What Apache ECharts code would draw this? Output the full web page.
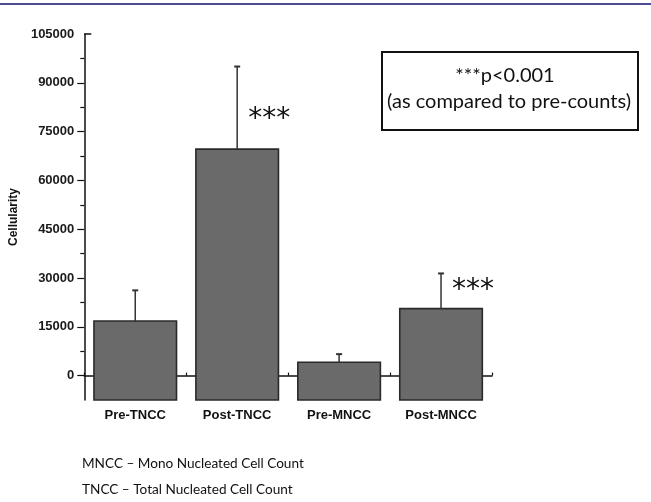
<!DOCTYPE html>
<html>
<head>
<meta charset="utf-8">
<script src="https://cdn.jsdelivr.net/npm/echarts@6/dist/echarts.min.js"></script>
<style>html,body{margin:0;padding:0;background:#fff;}#c{width:651px;height:502px;}</style>
</head>
<body>
<div id="c"></div>
<script>
const categories = ['Pre-TNCC', 'Post-TNCC', 'Pre-MNCC', 'Post-MNCC'];
const means = [16800, 69600, 4100, 20600];
const errorTops = [26200, 95000, 6600, 31400];
const sigMarks = ['', '***', '', '***'];
const sigLevels = [null, 80500, null, 28000];
const yLabelValues = [0, 15000, 30000, 45000, 60000, 75000, 90000, 105000];
const yMinorValues = [7500, 22500, 37500, 52500, 67500, 82500, 97500];
const Y_MIN = -7500, Y_MAX = 105000;

const chart = echarts.init(document.getElementById('c'), null, {renderer: 'canvas'});

const barData = means.map((v, i) => [i, v]);
const errData = means.map((v, i) => [i, v, errorTops[i]]);
const sigData = [];
sigMarks.forEach((s, i) => { if (s) sigData.push([i, sigLevels[i], s]); });

const yBase = {
  type: 'value', min: Y_MIN, max: Y_MAX, position: 'left', splitLine: {show: false}
};

chart.setOption({
  animation: false,
  backgroundColor: '#ffffff',
  grid: {left: 83, right: 159, top: 34, bottom: 102, containLabel: false},
  xAxis: [
    {
      type: 'category', data: categories, boundaryGap: true,
      axisLine: {show: true, lineStyle: {color: '#111', width: 1.5}},
      axisTick: {show: true, inside: true, alignWithLabel: true, length: 5, lineStyle: {color: '#111', width: 1.2}},
      axisLabel: {color: '#111', fontFamily: 'Liberation Sans', fontWeight: 'bold', fontSize: 13, margin: 9}
    },
    {
      type: 'category', data: categories, boundaryGap: true, position: 'bottom',
      axisLine: {show: false},
      axisTick: {show: true, inside: true, length: 3, lineStyle: {color: '#111', width: 1.2}},
      axisLabel: {show: false}
    }
  ],
  yAxis: [
    Object.assign({}, yBase, {
      name: 'Cellularity', nameLocation: 'middle', nameGap: 56, nameRotate: 90,
      nameTextStyle: {color: '#111', fontFamily: 'Liberation Sans', fontWeight: 'bold', fontSize: 12},
      axisLine: {show: true, lineStyle: {color: '#111', width: 1.5}},
      axisTick: {show: true, inside: false, length: 7, customValues: yLabelValues.filter(v => v < Y_MAX), lineStyle: {color: '#111', width: 1.2}},
      axisLabel: {show: true, customValues: yLabelValues, formatter: v => String(v), color: '#1a1a1a', fontFamily: 'Liberation Sans', fontWeight: 'bold', fontSize: 13, margin: 10}
    }),
    Object.assign({}, yBase, {
      axisLine: {show: false},
      axisTick: {show: true, inside: false, length: 4, customValues: yMinorValues, lineStyle: {color: '#111', width: 1.2}},
      axisLabel: {show: false}
    }),
    Object.assign({}, yBase, {
      axisLine: {show: false},
      axisTick: {show: true, inside: true, length: 7, customValues: [Y_MAX], lineStyle: {color: '#111', width: 1.5}},
      axisLabel: {show: false}
    })
  ],
  series: [
    {
      type: 'custom', xAxisIndex: 0, yAxisIndex: 0, data: barData,
      encode: {x: 0, y: 1}, z: 2,
      renderItem: function (params, api) {
        const i = api.value(0), v = api.value(1);
        const top = api.coord([i, v]);
        const base = api.coord([i, Y_MIN]);
        const w = api.size([1, 0])[0] * 0.81;
        return {
          type: 'rect',
          shape: {x: top[0] - w / 2, y: top[1], width: w, height: base[1] - top[1]},
          style: {fill: '#6a6a6a', stroke: '#2a2a2a', lineWidth: 1.6}
        };
      }
    },
    {
      type: 'custom', xAxisIndex: 0, yAxisIndex: 0, data: errData,
      encode: {x: 0, y: [1, 2]}, z: 3,
      renderItem: function (params, api) {
        const i = api.value(0);
        const lo = api.coord([i, api.value(1)]);
        const hi = api.coord([i, api.value(2)]);
        const cap = 3;
        const st = {stroke: '#333', lineWidth: 1.5};
        return {
          type: 'group',
          children: [
            {type: 'line', shape: {x1: lo[0], y1: lo[1], x2: hi[0], y2: hi[1]}, style: st},
            {type: 'line', shape: {x1: hi[0] - cap, y1: hi[1], x2: hi[0] + cap, y2: hi[1]}, style: {stroke: '#333', lineWidth: 2}}
          ]
        };
      }
    },
    {
      type: 'custom', xAxisIndex: 0, yAxisIndex: 0, data: sigData,
      encode: {x: 0, y: 1}, z: 4,
      renderItem: function (params, api) {
        const i = api.value(0);
        const p = api.coord([i, api.value(1)]);
        return {
          type: 'text',
          style: {
            text: sigData[params.dataIndex][2], x: p[0] + 32, y: p[1] + 6,
            align: 'center', verticalAlign: 'middle',
            fill: '#111', font: '28px "DejaVu Sans"'
          }
        };
      }
    }
  ],
  graphic: [
    {type: 'line', shape: {x1: 0, y1: 4, x2: 651, y2: 4}, style: {stroke: '#4b4b8f', lineWidth: 2}},
    {type: 'rect', shape: {x: 382, y: 52, width: 256, height: 78}, style: {fill: '#fff', stroke: '#111', lineWidth: 2}},
    {type: 'text', style: {text: '***p<0.001', x: 505, y: 76, align: 'center', verticalAlign: 'middle', fill: '#111', font: '20px Lato'}},
    {type: 'text', style: {text: '(as compared to pre-counts)', x: 509, y: 102, align: 'center', verticalAlign: 'middle', fill: '#111', font: '20px Lato'}},
    {type: 'text', style: {text: 'MNCC \u2013 Mono Nucleated Cell Count', x: 82, y: 464, align: 'left', verticalAlign: 'middle', fill: '#111', font: '13.6px Lato'}},
    {type: 'text', style: {text: 'TNCC \u2013 Total Nucleated Cell Count', x: 82, y: 490, align: 'left', verticalAlign: 'middle', fill: '#111', font: '13.6px Lato'}}
  ]
});
</script>
</body>
</html>
